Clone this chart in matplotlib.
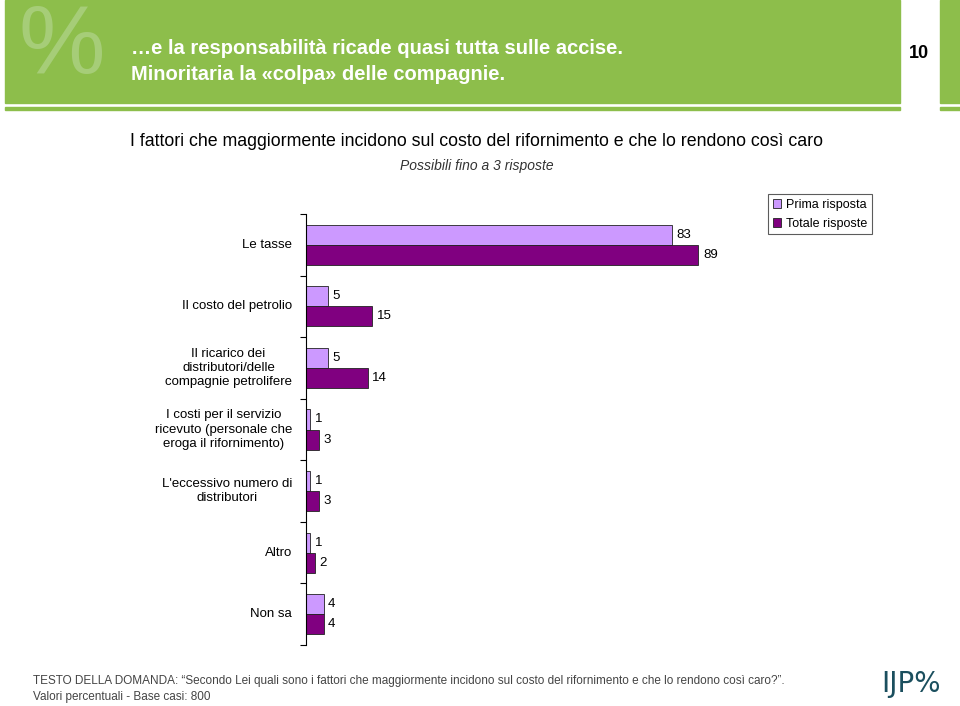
import numpy as np
import matplotlib.pyplot as plt
from matplotlib.patches import Rectangle

plt.rcParams['font.family'] = ['Liberation Sans', 'DejaVu Sans']

# Dati
categorie = ['Le tasse', 'Il costo del petrolio',
             'Il ricarico dei\ndistributori/delle\ncompagnie petrolifere',
             'I costi per il servizio\nricevuto (personale che\neroga il rifornimento)',
             "L'eccessivo numero di\ndistributori", 'Altro', 'Non sa']
prima = [83, 5, 5, 1, 1, 1, 4]
totale = [89, 15, 14, 3, 3, 2, 4]

W, H = 960, 706
fig = plt.figure(figsize=(W / 100, H / 100), dpi=100)

def fx(px):
    return px / W

def fy(py):
    return 1 - py / H

verde = '#8dbe4b'
# intestazione
fig.patches.append(Rectangle((fx(5), fy(103)), fx(895), 103 / H, transform=fig.transFigure, color=verde))
fig.patches.append(Rectangle((fx(5), fy(110)), fx(895), 3 / H, transform=fig.transFigure, color=verde))
fig.patches.append(Rectangle((fx(940), fy(103)), fx(20), 103 / H, transform=fig.transFigure, color=verde))
fig.patches.append(Rectangle((fx(940), fy(110)), fx(20), 3 / H, transform=fig.transFigure, color=verde))
fig.text(fx(62), fy(3), '%', fontsize=70, color='#a6cd78', ha='center', va='top', family='Liberation Sans')
fig.text(fx(131), fy(49), '…e la responsabilità ricade quasi tutta sulle accise.',
         color='white', fontsize=14.5, fontweight='bold', ha='left', va='center')
fig.text(fx(131), fy(74), 'Minoritaria la «colpa» delle compagnie.',
         color='white', fontsize=14.5, fontweight='bold', ha='left', va='center')
fig.text(fx(919), fy(53), '10', fontsize=13, fontweight='bold', ha='center', va='center')

fig.text(fx(477), fy(141), 'I fattori che maggiormente incidono sul costo del rifornimento e che lo rendono così caro',
         fontsize=12.8, ha='center', va='center')
fig.text(fx(477), fy(166), 'Possibili fino a 3 risposte', fontsize=10, style='italic', ha='center', va='center', color='#333333')

# grafico
ax = fig.add_axes([fx(306), fy(645), fx(441), (645 - 214) / H])
y = np.arange(len(categorie))
h = 0.325
c1, c2 = '#cc99ff', '#800080'
b1 = ax.barh(y - h / 2, prima, height=h, color=c1, edgecolor='#222222', linewidth=0.6, label='Prima risposta')
b2 = ax.barh(y + h / 2, totale, height=h, color=c2, edgecolor='#222222', linewidth=0.6, label='Totale risposte')
for bars, vals in ((b1, prima), (b2, totale)):
    for b, v in zip(bars, vals):
        ax.text(b.get_width() + 1, b.get_y() + b.get_height() / 2, str(v), va='center', ha='left', fontsize=9.5)
ax.set_xlim(0, 100)
ax.set_ylim(len(categorie) - 0.5, -0.5)
ax.set_yticks(np.arange(len(categorie) + 1) - 0.5)
ax.set_yticklabels([])
ax.tick_params(axis='y', direction='out', length=4, width=0.8)
ax.set_xticks([])
for s in ['top', 'right', 'bottom']:
    ax.spines[s].set_visible(False)
for i, c in enumerate(categorie):
    ax.annotate(c, xy=(0, i), xycoords=('axes fraction', 'data'), xytext=(-10, 0), textcoords='offset points',
                ha='right', va='center', fontsize=9.5, linespacing=1.25, multialignment='center')

leg = fig.legend(handles=[b1, b2], loc='upper left', bbox_to_anchor=(fx(762), fy(188)), frameon=True,
                 fancybox=False, edgecolor='#333333', fontsize=9, handlelength=0.7, handleheight=0.7,
                 handletextpad=0.4, borderpad=0.35, labelspacing=0.55)
leg.get_frame().set_linewidth(0.8)

# piè di pagina
fig.text(fx(33), fy(681), 'TESTO DELLA DOMANDA: “Secondo Lei quali sono i fattori che maggiormente incidono sul costo del rifornimento e che lo rendono così caro?”.',
         fontsize=8.5, color='#444444', ha='left', va='center')
fig.text(fx(33), fy(697), 'Valori percentuali - Base casi: 800', fontsize=8.5, color='#444444', ha='left', va='center')
fig.text(fx(911), fy(684), 'IJP%', fontsize=20, color='#1b4f5e', ha='center', va='center', family='DejaVu Sans')

fig.savefig('out.png', dpi=100)
